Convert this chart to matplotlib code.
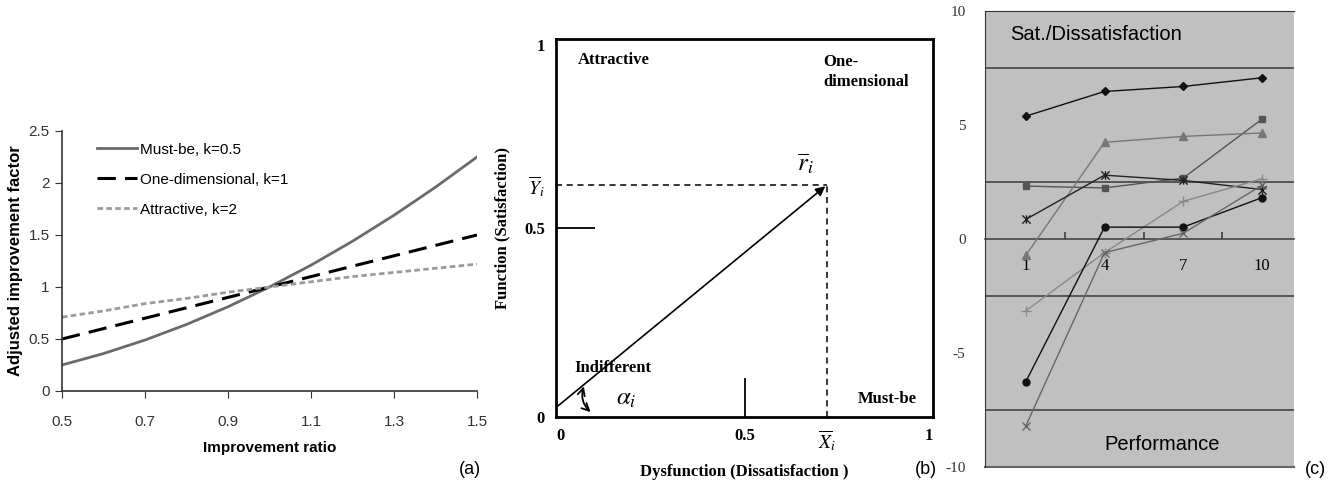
import numpy as np
import matplotlib
matplotlib.use('Agg')
import matplotlib.pyplot as plt
from matplotlib.path import Path

plt.rcParams['mathtext.fontset'] = 'stix'
plt.rcParams['axes.unicode_minus'] = False

# (a) adjusted improvement factor vs improvement ratio
ratio = [0.5, 0.6, 0.7, 0.8, 0.9, 1.0, 1.1, 1.2, 1.3, 1.4, 1.5]
must_be = [0.25, 0.36, 0.49, 0.64, 0.81, 1.0, 1.21, 1.44, 1.69, 1.96, 2.25]
one_dim = [0.5, 0.6, 0.7, 0.8, 0.9, 1.0, 1.1, 1.2, 1.3, 1.4, 1.5]
attractive = [0.71, 0.77, 0.84, 0.89, 0.95, 1.0, 1.05, 1.10, 1.14, 1.18, 1.22]

# (b) Kano vector
x_bar = 0.72
y_bar = 0.615
r_start_y = 0.025

# (c) satisfaction vs performance
perf = ['1', '4', '7', '10']
s_diamond = [5.39, 6.47, 6.69, 7.07]
s_square = [2.32, 2.24, 2.67, 5.25]
s_triangle = [-0.71, 4.24, 4.50, 4.65]
s_star = [0.86, 2.80, 2.57, 2.17]
s_plus = [-3.15, -0.60, 1.65, 2.64]
s_circle = [-6.25, 0.52, 0.52, 1.81]
s_cross = [-8.19, -0.60, 0.25, 2.35]

sans = ['Liberation Sans', 'DejaVu Sans']
serif = ['Liberation Serif', 'DejaVu Serif']

fig = plt.figure(figsize=(13.43, 4.8), dpi=100)

# ---------------- panel (a)
ax1 = fig.add_axes([62/1343, 1-391/480, 415/1343, 260/480])
ax1.plot(ratio, must_be, color='#6a6a6a', lw=2.0, label='Must-be, k=0.5')
ax1.plot(ratio, one_dim, color='black', lw=2.2, dashes=(6, 3), label='One-dimensional, k=1')
ax1.plot(ratio, attractive, color='#9a9a9a', lw=2.0, dashes=(2, 1.2), label='Attractive, k=2')
ax1.set_xlim(0.5, 1.5)
ax1.set_ylim(0, 2.5)
ax1.set_xticks([0.5, 0.7, 0.9, 1.1, 1.3, 1.5])
ax1.set_xticklabels(['0.5', '0.7', '0.9', '1.1', '1.3', '1.5'])
ax1.set_yticks([0, 0.5, 1, 1.5, 2, 2.5])
ax1.set_yticklabels(['0', '0.5', '1', '1.5', '2', '2.5'])
for s in ['top', 'right']:
    ax1.spines[s].set_visible(False)
for s in ['left', 'bottom']:
    ax1.spines[s].set_color('#333333')
    ax1.spines[s].set_linewidth(1.2)
ax1.tick_params(axis='x', direction='out', length=5, pad=12, colors='#333333')
ax1.tick_params(axis='y', direction='out', length=5, pad=4, colors='#333333')
for t in ax1.get_xticklabels() + ax1.get_yticklabels():
    t.set_family(sans)
    t.set_fontsize(11)
ax1.set_xlabel('Improvement ratio', family=sans, fontsize=11, fontweight='bold', labelpad=9)
ax1.set_ylabel('Adjusted improvement factor', family=sans, fontsize=12, fontweight='bold', labelpad=4)
ax1.legend(loc='upper left', bbox_to_anchor=(0.085, 0.955), frameon=False,
           handlelength=2.6, handletextpad=0.2, labelspacing=1.05,
           borderpad=0, borderaxespad=0, prop={'family': sans, 'size': 11})
fig.text(470/1343, 1-469/480, '(a)', family=sans, fontsize=13, ha='center', va='center')

# ---------------- panel (b)
ax2 = fig.add_axes([556/1343, 1-417/480, 377/1343, 378/480])
ax2.set_xlim(0, 1)
ax2.set_ylim(0, 1)
ax2.annotate('', xy=(x_bar, y_bar), xytext=(0, r_start_y),
             arrowprops=dict(arrowstyle='-|>', color='black', lw=1.2, mutation_scale=14))
ax2.plot([0, x_bar], [y_bar, y_bar], color='black', lw=1.1, dashes=(4, 3))
ax2.plot([x_bar, x_bar], [0, y_bar], color='black', lw=1.1, dashes=(4, 3))
for s in ax2.spines.values():
    s.set_linewidth(2)
ax2.xaxis.remove_overlapping_locs = False
ax2.yaxis.remove_overlapping_locs = False
ax2.set_xticks([0, 0.5, x_bar, 1])
ax2.set_xticklabels(['0', '0.5', r'$\overline{X}_i$', '1'])
ax2.set_yticks([0, 0.5, y_bar, 1])
ax2.set_yticklabels(['0', '0.5', r'$\overline{Y}_i$', '1'])
ax2.tick_params(length=0, pad=8)
ax2.set_xticks([0.5], minor=True)
ax2.set_yticks([0.5], minor=True)
ax2.tick_params(which='minor', direction='in', length=28, width=1.3)
for t in ax2.get_xticklabels() + ax2.get_yticklabels():
    t.set_family(serif)
    t.set_fontweight('bold')
    t.set_fontsize(12)
xl = ax2.get_xticklabels()
xl[0].set_ha('left')
xl[3].set_ha('right')
xl[2].set_fontsize(14)
yl = ax2.get_yticklabels()
yl[3].set_va('top')
yl[2].set_fontsize(14)
ax2.set_xlabel('Dysfunction (Dissatisfaction )', family=serif, fontweight='bold', fontsize=12, labelpad=8)
ax2.set_ylabel('Function (Satisfaction)', family=serif, fontweight='bold', fontsize=12, labelpad=10)
tk = dict(family=serif, fontweight='bold', fontsize=12)
ax2.text(0.058, 0.944, 'Attractive', va='center', **tk)
ax2.text(0.708, 0.96, 'One-\ndimensional', va='top', linespacing=1.3, **tk)
ax2.text(0.048, 0.13, 'Indifferent', va='center', **tk)
ax2.text(0.80, 0.048, 'Must-be', va='center', **tk)
ax2.text(0.16, 0.05, r'$\alpha_i$', fontsize=18, va='center')
ax2.text(0.64, 0.67, r'$\overline{r}_i$', fontsize=18, va='center')
ax2.annotate('', xy=(0.097, 0.008), xytext=(0.076, 0.088),
             arrowprops=dict(arrowstyle='<->', color='black', lw=1.3,
                             connectionstyle='arc3,rad=0.35', mutation_scale=13))
fig.text(926/1343, 1-469/480, '(b)', family=sans, fontsize=13, ha='center', va='center')

# ---------------- panel (c)
ax3 = fig.add_axes([985/1343, 1-467/480, 309/1343, 456/480])
ax3.set_facecolor('#c0c0c0')
pos = np.arange(len(perf))
star = Path([(-1, -1), (1, 1), (-1, 1), (1, -1), (0, 1), (0, -1)],
            [Path.MOVETO, Path.LINETO, Path.MOVETO, Path.LINETO, Path.MOVETO, Path.LINETO])
series = [
    (s_diamond, '#111111', 'D', 4),
    (s_square, '#555555', 's', 5),
    (s_triangle, '#777777', '^', 5.5),
    (s_star, '#222222', star, 6),
    (s_plus, '#888888', '+', 7),
    (s_circle, '#111111', 'o', 5),
    (s_cross, '#666666', 'x', 6),
]
for vals, col, mk, ms in series:
    ax3.plot(pos, vals, color=col, lw=1.0, marker=mk, markersize=ms,
             markerfacecolor=col, markeredgecolor=col, markeredgewidth=1.0, zorder=3)
ax3.set_xlim(-0.52, 3.41)
ax3.set_ylim(-10, 10)
ax3.set_yticks([-10, -5, 0, 5, 10])
ax3.set_yticks(np.arange(-7.5, 10, 2.5), minor=True)
ax3.yaxis.grid(True, which='minor', color='#3a3a3a', lw=1.1)
ax3.tick_params(axis='y', which='both', length=0, pad=14, labelsize=11, labelcolor='#333333')
for t in ax3.get_yticklabels():
    t.set_family(serif)
ax3.spines['right'].set_visible(False)
ax3.spines['top'].set_color('#333333')
ax3.spines['left'].set_color('#333333')
ax3.spines['bottom'].set_position(('data', 0))
ax3.spines['bottom'].set_color('#3a3a3a')
ax3.spines['bottom'].set_linewidth(1.1)
ax3.plot([0, 1], [0, 0], transform=ax3.transAxes, color='#666666', lw=1.5, clip_on=False)
ax3.set_xticks(pos)
ax3.set_xticklabels(perf, family=serif, fontsize=12)
ax3.set_xticks([0.5, 1.5, 2.5], minor=True)
ax3.tick_params(axis='x', which='major', length=0, pad=14)
ax3.tick_params(axis='x', which='minor', direction='in', length=5, width=1.1, color='#333333')
ax3.text(0.08, 0.948, 'Sat./Dissatisfaction', transform=ax3.transAxes, family=sans, fontsize=14.5, va='center')
ax3.text(0.385, 0.05, 'Performance', transform=ax3.transAxes, family=sans, fontsize=14.5, va='center')
fig.text(1315/1343, 1-469/480, '(c)', family=sans, fontsize=13, ha='center', va='center')

fig.savefig('out.png', dpi=100)
